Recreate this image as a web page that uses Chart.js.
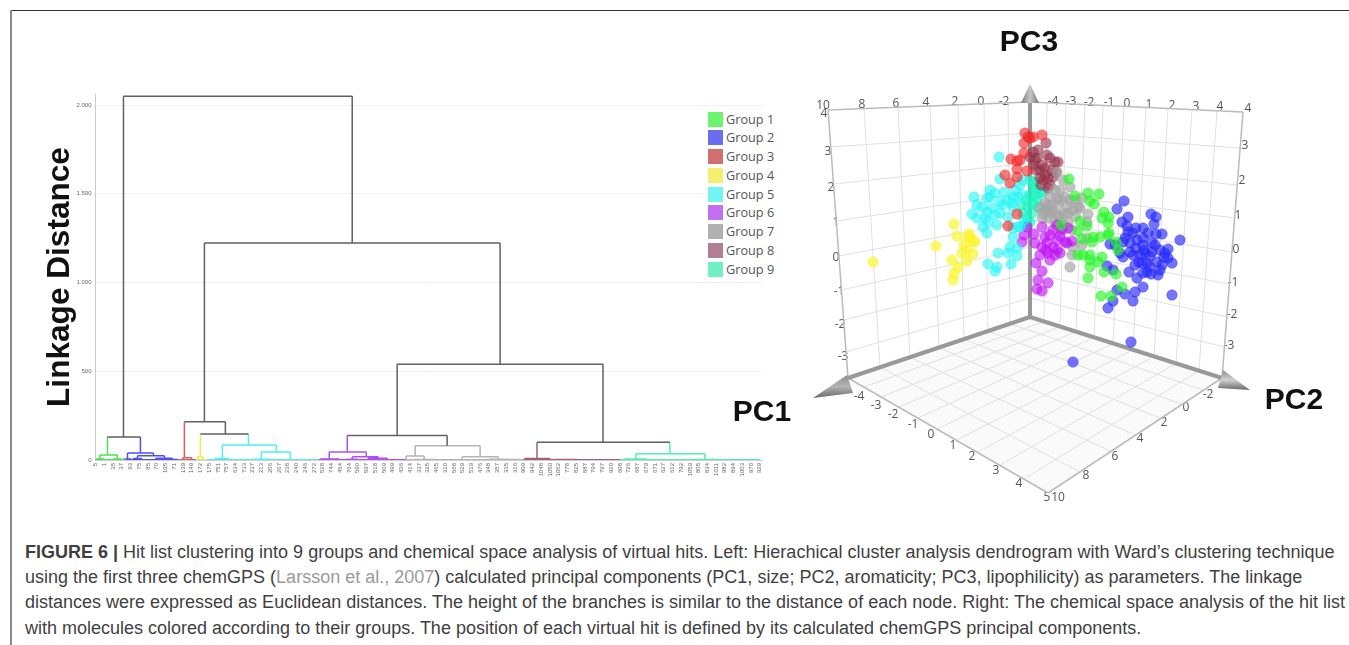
<!DOCTYPE html>
<html>
<head>
<meta charset="utf-8">
<script src="https://cdn.jsdelivr.net/npm/chart.js@4"></script>
<style>
html, body { margin: 0; padding: 0; background: #fff; overflow: hidden; }
#page { position: relative; width: 1349px; height: 645px; font-family: "Liberation Sans", sans-serif; }
canvas { position: absolute; top: 0; }
#frameTop { position: absolute; left: 10px; top: 10px; width: 1339px; height: 1px; background: #333; }
#frameLeft { position: absolute; left: 10px; top: 10px; width: 2px; height: 635px; background: #8a8a8a; }
#legend { position: absolute; left: 703px; top: 110px; width: 72px; height: 170px; background: #fff; font: 12.7px "Open Sans", sans-serif; color: #555; }
#legend div { position: absolute; left: 5px; height: 15px; line-height: 15px; padding-left: 18px; white-space: nowrap; }
#legend i { position: absolute; left: 0; top: 0; width: 15px; height: 15px; }
#caption { position: absolute; left: 25px; top: 540px; font-size: 18px; line-height: 25.2px; color: #3f3f3f; white-space: nowrap; }
#caption span { color: #9a9a9a; }
</style>
</head>
<body>
<div id="page">
    <div id="frameTop"></div>
    <div id="frameLeft"></div>
    <canvas id="tree" width="770" height="490" style="left:0"></canvas>
    <canvas id="space" width="619" height="520" style="left:730px"></canvas>
    <div id="legend"></div>
    <div id="caption">
        <div><b>FIGURE 6 |</b> Hit list clustering into 9 groups and chemical space analysis of virtual hits. Left: Hierachical cluster analysis dendrogram with Ward’s clustering technique</div>
        <div>using the first three chemGPS (<span>Larsson et al., 2007</span>) calculated principal components (PC1, size; PC2, aromaticity; PC3, lipophilicity) as parameters. The linkage</div>
        <div>distances were expressed as Euclidean distances. The height of the branches is similar to the distance of each node. Right: The chemical space analysis of the hit list</div>
        <div>with molecules colored according to their groups. The position of each virtual hit is defined by its calculated chemGPS principal components.</div>
    </div>
</div>
<script>
var groupNames = ['Group 1', 'Group 2', 'Group 3', 'Group 4', 'Group 5', 'Group 6', 'Group 7', 'Group 8', 'Group 9'];
var swatchColors = ['#6cf56c', '#6c6cf0', '#d07070', '#f5ef70', '#70f5f0', '#c070f0', '#b0b0b0', '#b08090', '#70f0c0'];
var branchColors = ['#606060', '#4fe04f', '#5050f0', '#d06060', '#ecec50', '#50f0f0', '#b050f0', '#b4b4b4', '#a06070', '#50f0b0'];
var pointColors = ['rgba(40,245,40,0.65)', 'rgba(40,40,250,0.65)', 'rgba(240,40,40,0.62)', 'rgba(250,245,50,0.72)', 'rgba(40,245,245,0.62)', 'rgba(190,20,245,0.62)', 'rgba(165,165,165,0.68)', 'rgba(150,50,75,0.6)', 'rgba(30,245,195,0.68)'];

// dendrogram
var leafLabels = [5, 1, 35, 37, 93, 75, 85, 70, 105, 71, 139, 149, 172, 175, 751, 757, 634, 733, 237, 213, 206, 267, 238, 240, 246, 272, 528, 744, 454, 764, 590, 597, 518, 509, 499, 436, 414, 337, 325, 465, 310, 568, 529, 519, 476, 348, 357, 335, 316, 909, 942, 1048, 1050, 1062, 778, 825, 887, 794, 797, 920, 608, 726, 687, 679, 671, 627, 612, 792, 1059, 805, 834, 1011, 982, 894, 1003, 970, 929];
var linkageTicks = [0, 500, 1000, 1500, 2000];
var linkageTickLabels = ['0', '500', '1.000', '1.500', '2.000'];

// merges: left leaf pos, right leaf pos, left height, right height, top height, top colour, left colour, right colour
var merges = [
    [3.2, 29.37, 130, 1222, 2050, 0, 0, 0],
    [1.37, 5.14, 28, 40, 130, 0, 1, 2],
    [12.46, 46.29, 215, 540, 1222, 0, 0, 0],
    [10.17, 14.86, 12, 146, 215, 0, 3, 0],
    [12, 17.49, 20, 85, 146, 0, 4, 5],
    [34.51, 58.06, 138, 100, 540, 0, 0, 0],
    [28.8, 40.23, 45, 80, 138, 0, 6, 0],
    [50.51, 65.71, 8, 35, 100, 0, 8, 9],
    [0.5, 2.5, 6, 5, 28, 1, 1, 1],
    [0, 1, 0, 0, 6, 1, 1, 1],
    [2, 3, 0, 0, 5, 1, 1, 1],
    [3.66, 6.63, 5, 24, 40, 2, 2, 2],
    [3.2, 4.1, 0, 0, 5, 2, 2, 2],
    [4.8, 7.89, 8, 10, 24, 2, 2, 2],
    [4.3, 5.3, 0, 0, 8, 2, 2, 2],
    [6.9, 8.8, 0, 3, 10, 2, 2, 2],
    [8, 9.4, 0, 0, 3, 2, 2, 2],
    [10, 11, 0, 0, 12, 3, 3, 3],
    [11.7, 12.3, 0, 0, 20, 4, 4, 4],
    [14.51, 20.69, 8, 45, 85, 5, 5, 5],
    [13.7, 15.2, 0, 0, 8, 5, 5, 5],
    [18.97, 22.29, 4, 2, 45, 5, 5, 5],
    [18.06, 19.89, 0, 0, 4, 5, 5, 5],
    [21.1, 23.4, 0, 0, 2, 5, 5, 5],
    [26.74, 30.97, 5, 18, 45, 6, 6, 6],
    [29.37, 32.34, 4, 10, 18, 6, 6, 6],
    [25.7, 27.9, 0, 0, 5, 6, 6, 6],
    [28.7, 30, 0, 0, 4, 6, 6, 6],
    [31.2, 33.4, 0, 0, 10, 6, 6, 6],
    [36.57, 44, 22, 18, 80, 7, 7, 7],
    [35.54, 37.6, 0, 3, 22, 7, 7, 7],
    [36.5, 39, 0, 0, 3, 7, 7, 7],
    [41.94, 46.06, 0, 4, 18, 7, 7, 7],
    [45, 47, 0, 0, 4, 7, 7, 7],
    [47, 48.6, 0, 0, 3, 7, 7, 7],
    [49.1, 52, 0, 0, 8, 8, 8, 8],
    [52.6, 55, 0, 0, 3, 8, 8, 8],
    [61.83, 69.71, 5, 3, 35, 9, 9, 9],
    [60.5, 63, 0, 0, 5, 9, 9, 9],
    [68.7, 71, 0, 0, 3, 9, 9, 9]
];
// colour, first leaf pos, last leaf pos of each flat run along the baseline
var baselines = [[1, 0, 3.5], [2, 3.5, 9.5], [3, 9.5, 11.5], [4, 11.5, 12.7], [5, 12.7, 25.5], [6, 25.5, 35.5], [7, 35.5, 48.9], [8, 48.9, 60], [9, 60, 76]];

// chemical space view
var group1 = [[1069,179],[1075,196],[1088,193],[1099,194],[1090,201],[1094,204],[1104,212],[1102,218],[1109,217],[1108,223],[1080,221],[1087,226],[1078,231],[1109,233],[1108,235],[1082,239],[1092,242],[1093,237],[1100,237],[1116,242],[1078,255],[1083,255],[1090,255],[1090,260],[1102,257],[1098,262],[1090,267],[1104,272],[1116,274],[1088,278],[1101,296],[1111,296],[1122,287],[1118,250],[1061,225]];
var group2 = [[1124,201],[1117,209],[1128,217],[1151,214],[1156,217],[1154,224],[1122,222],[1127,226],[1133,233],[1136,228],[1143,228],[1148,233],[1156,234],[1162,234],[1180,240],[1125,238],[1130,243],[1123,242],[1143,245],[1152,243],[1143,238],[1110,244],[1115,245],[1120,253],[1123,257],[1133,255],[1140,255],[1145,253],[1152,252],[1160,250],[1168,249],[1165,253],[1168,258],[1172,263],[1142,263],[1147,263],[1157,262],[1162,265],[1135,265],[1150,267],[1160,270],[1158,275],[1129,272],[1137,278],[1143,273],[1151,274],[1143,287],[1107,266],[1113,270],[1117,290],[1125,294],[1135,292],[1113,301],[1133,301],[1108,308],[1172,295],[1131,342],[1073,362],[1137,240],[1130,252],[1150,256],[1139,262],[1155,245],[1128,232],[1164,257],[1147,272],[1136,248],[1144,250]];
var group3 = [[1025,133],[1042,135],[1028,137],[1033,137],[1024,143],[1024,153],[1011,159],[1020,160],[1017,161],[1017,169],[1027,171],[1005,175],[1010,183],[1017,177],[1017,214],[1008,226],[1030,138]];
var group4 = [[873,262],[936,246],[954,224],[957,236],[969,234],[973,241],[971,238],[964,245],[962,253],[967,250],[973,254],[967,261],[952,260],[958,267],[954,273],[953,280],[975,242],[968,237]];
var group5 = [[999,157],[1000,179],[974,197],[990,190],[987,198],[995,193],[1004,192],[1013,197],[1018,197],[1012,203],[1000,202],[990,197],[977,205],[982,207],[987,212],[992,208],[995,215],[972,214],[977,218],[985,218],[988,222],[997,225],[983,227],[987,233],[1020,185],[1022,180],[1013,237],[1018,227],[1013,228],[1008,217],[1000,213],[1010,247],[1017,248],[1008,253],[998,253],[1017,256],[988,264],[997,267],[995,271],[1011,264],[1020,227],[1013,207],[1003,205],[1015,190],[1008,200],[1022,195],[1024,220]];
var group6 = [[1027,227],[1024,235],[1034,234],[1022,242],[1042,227],[1057,225],[1053,230],[1062,230],[1050,235],[1045,237],[1057,240],[1065,242],[1047,243],[1042,247],[1053,247],[1057,250],[1040,255],[1048,253],[1060,253],[1050,260],[1036,263],[1042,271],[1038,280],[1048,283],[1037,289],[1042,291],[1068,228],[1072,241],[1067,243],[1060,236],[1046,250],[1055,255],[1035,243]];
var group7 = [[1057,172],[1063,180],[1070,187],[1060,190],[1050,197],[1057,198],[1065,197],[1075,200],[1082,198],[1045,203],[1052,205],[1058,205],[1067,207],[1073,210],[1080,208],[1043,213],[1050,213],[1058,215],[1068,213],[1042,218],[1048,218],[1059,216],[1055,222],[1068,222],[1088,214],[1087,222],[1072,230],[1082,245],[1073,247],[1072,255],[1070,267],[1087,238],[1062,228],[1040,208],[1048,205],[1055,190],[1060,200],[1070,200],[1052,211],[1064,214],[1075,216],[1062,222],[1047,210],[1078,207]];
var group8 = [[1046,143],[1033,152],[1047,155],[1037,158],[1050,158],[1055,162],[1042,165],[1045,168],[1035,160],[1053,177],[1048,178],[1043,180],[1048,188],[1058,162],[1040,170],[1045,175],[1038,150],[1030,157],[1052,170],[1040,178],[1036,170],[1050,185],[1056,172],[1041,185],[1034,165]];
var group9 = [[1033,187],[1030,195],[1040,193],[1027,200],[1037,200],[1028,207],[1023,213],[1032,213],[1027,218],[1035,182],[1043,192],[1033,203],[1022,205],[1035,195],[1038,207],[1025,225],[1030,222],[1036,188],[1030,180]];
var groupPoints = [group1, group2, group3, group4, group5, group6, group7, group8, group9];

// box corners of the 3d view
var cornerTL = [828, 110], cornerTB = [1030, 102], cornerTR = [1243, 112];
var cornerBL = [848, 378], cornerBB = [1030, 317], cornerBR = [1222, 378], cornerFront = [1048, 493];
var backLevels = [133, 163, 192, 220, 247, 273, 298];
var leftLevels = [147, 184, 221, 256, 290, 320, 352];
var rightLevels = [148, 185, 218, 252, 284, 317, 347];
var leftWallTop = [864, 898, 930, 958, 984, 1008];
var leftWallBottom = [880, 910, 939, 964, 988, 1010];
var rightWallTop = [1047, 1066, 1085, 1103, 1124, 1146, 1168, 1192, 1217];
var rightWallBottom = [1044, 1060, 1076, 1094, 1113, 1133, 1154, 1176, 1199];
var floorPC1 = [[864,387],[881,397],[899,407],[918,418],[937,429],[957,440],[978,452],[1000,465],[1024,479]];
var floorPC2 = [[1080,472],[1110,451],[1135,435],[1160,418],[1181,404],[1203,390]];

var tickTexts = [
    ['10',823,106],['8',862,105],['6',896,104],['4',926,103],['2',955,102],['0',981,102],['-2',1004,102],
    ['-4',1053,102],['-3',1071,102],['-2',1089,103],['-1',1109,103],['0',1127,104],['1',1149,105],['2',1172,106],['3',1196,107],['4',1220,107],['4',1248,109],
    ['4',824,114],['3',828,152],['2',831,188],['1',836,223],['0',836,258],['-1',839,292],['-2',840,325],['-3',843,357],
    ['3',1245,146],['2',1242,181],['1',1238,216],['0',1236,250],['-1',1233,283],['-2',1232,315],['-3',1229,346],
    ['-4',859,397],['-3',876,406],['-2',893,415],['-1',913,425],['0',931,435],['1',953,446],['2',972,457],['3',996,471],['4',1019,484],['5',1047,498],
    ['10',1058,498],['8',1086,476],['6',1115,457],['4',1140,439],['2',1164,423],['0',1186,408],['-2',1208,395]
];
var axisTexts = [['PC3',1029,43],['PC1',762,413],['PC2',1294,401]];

// legend
groupNames.forEach(function (name, i) {
    var row = document.createElement('div');
    row.style.top = (1.5 + i * 18.75) + 'px';
    row.innerHTML = '<i style="background:' + swatchColors[i] + '"></i>' + name;
    document.getElementById('legend').appendChild(row);
});

function segment(list, a, b) {
    list.push({ x: a[0], y: a[1] }, { x: b[0], y: b[1] }, { x: null, y: null });
}

var treeLines = branchColors.map(function () { return []; });
merges.forEach(function (m) {
    segment(treeLines[m[5]], [m[0], m[4]], [m[1], m[4]]);
    segment(treeLines[m[6]], [m[0], m[2]], [m[0], m[4]]);
    segment(treeLines[m[7]], [m[1], m[3]], [m[1], m[4]]);
});
baselines.forEach(function (b) {
    segment(treeLines[b[0]], [b[1], 1.5], [b[2], 1.5]);
});

new Chart(document.getElementById('tree'), {
    type: 'scatter',
    data: {
        datasets: treeLines.map(function (pts, i) {
            return { data: pts, showLine: true, borderColor: branchColors[i], borderWidth: 1.5, pointRadius: 0, spanGaps: false };
        })
    },
    options: {
        responsive: false,
        animation: false,
        layout: { padding: { top: 94 }, autoPadding: false },
        plugins: { legend: { display: false }, tooltip: { enabled: false } },
        scales: {
            x: {
                type: 'linear', min: 0, max: 76.3,
                afterBuildTicks: function (scale) {
                    scale.ticks = leafLabels.map(function (l, i) { return { value: i }; });
                },
                afterFit: function (scale) { scale.height = 30; },
                grid: { display: false, drawTicks: false },
                border: { color: '#d0d0d0' },
                ticks: {
                    autoSkip: false, minRotation: 90, maxRotation: 90, padding: 3,
                    font: { size: 6, family: 'Liberation Sans' }, color: '#666',
                    callback: function (v) { return leafLabels[v]; }
                }
            },
            y: {
                type: 'linear', min: 0, max: 2062,
                afterBuildTicks: function (scale) {
                    scale.ticks = linkageTicks.map(function (v) { return { value: v }; });
                },
                afterFit: function (scale) { scale.width = 95.5; },
                grid: { color: '#f0f0f0', drawTicks: false },
                border: { color: '#cccccc' },
                ticks: {
                    padding: 4, font: { size: 6, family: 'Liberation Sans' }, color: '#666',
                    callback: function (v) { return linkageTickLabels[linkageTicks.indexOf(v)]; }
                },
                title: {
                    display: true, text: 'Linkage Distance', color: '#111',
                    font: { size: 31.6, family: 'Liberation Sans', weight: 'bold' },
                    padding: { top: 41, bottom: 0 }
                }
            }
        }
    }
});

// 3d box pieces
function lerpX(a, b, y) { return a[0] + (y - a[1]) * (b[0] - a[0]) / (b[1] - a[1]); }
function lerpY(a, b, x) { return a[1] + (x - a[0]) * (b[1] - a[1]) / (b[0] - a[0]); }

var gridLines = [];
var edgeLines = [];
var axisLines = [];
backLevels.forEach(function (y, i) {
    segment(gridLines, [lerpX(cornerTL, cornerBL, leftLevels[i]), leftLevels[i]], [cornerTB[0], y]);
    segment(gridLines, [cornerTB[0], y], [lerpX(cornerTR, cornerBR, rightLevels[i]), rightLevels[i]]);
});
leftWallTop.forEach(function (x, i) {
    var bottom = [leftWallBottom[i], lerpY(cornerBL, cornerBB, leftWallBottom[i])];
    segment(gridLines, [x, lerpY(cornerTL, cornerTB, x)], bottom);
    segment(gridLines, bottom, floorPC2[i]);
});
rightWallTop.forEach(function (x, i) {
    var bottom = [rightWallBottom[i], lerpY(cornerBB, cornerBR, rightWallBottom[i])];
    segment(gridLines, [x, lerpY(cornerTB, cornerTR, x)], bottom);
    segment(gridLines, bottom, floorPC1[i]);
});
segment(edgeLines, cornerTL, cornerTB);
segment(edgeLines, cornerTB, cornerTR);
segment(edgeLines, cornerTL, cornerBL);
segment(edgeLines, cornerTR, cornerBR);
segment(edgeLines, cornerBL, cornerFront);
segment(edgeLines, cornerFront, cornerBR);
segment(axisLines, cornerTB, cornerBB);
segment(axisLines, cornerBB, cornerBL);
segment(axisLines, cornerBB, cornerBR);

function polygon(pts) {
    return pts.map(function (p) { return { x: p[0], y: p[1] }; });
}

var coneTop = [[1030, 84], [1039, 103], [1021, 103], [1030, 84]];
var coneLeft = [[813, 398], [847, 375], [853, 393], [813, 398]];
var coneRight = [[1250, 390], [1223, 370], [1218, 388], [1250, 390]];
var floorShape = [cornerBB, cornerBL, cornerFront, cornerBR, cornerBB];

// shaded cones, gradients are in canvas pixels
var spaceCtx = document.getElementById('space').getContext('2d');
function coneShade(x0, y0, x1, y1, stops) {
    var g = spaceCtx.createLinearGradient(x0 - 730, y0, x1 - 730, y1);
    stops.forEach(function (c, i) { g.addColorStop(i / (stops.length - 1), c); });
    return g;
}
var coneFills = [
    coneShade(1021, 0, 1039, 0, ['#777777', '#c8c8c8', '#777777']),
    coneShade(0, 375, 0, 398, ['#8a8a8a', '#b4b4b4', '#6a6a6a']),
    coneShade(0, 370, 0, 390, ['#8c8c8c', '#d0d0d0', '#666666'])
];

var spaceSets = groupPoints.map(function (pts, i) {
    return {
        label: groupNames[i],
        data: pts.map(function (p) { return { x: p[0], y: p[1] }; }),
        pointRadius: 5.3,
        pointBackgroundColor: pointColors[i],
        pointBorderColor: pointColors[i],
        pointBorderWidth: 0.5,
        clip: false
    };
});
[coneTop, coneLeft, coneRight].forEach(function (c, i) {
    spaceSets.push({ data: polygon(c), showLine: true, fill: 'shape', backgroundColor: coneFills[i], borderColor: 'rgba(0,0,0,0)', borderWidth: 0, pointRadius: 0 });
});
spaceSets.push({ data: axisLines, showLine: true, borderColor: '#999999', borderWidth: 4, pointRadius: 0, spanGaps: false });
spaceSets.push({ data: edgeLines, showLine: true, borderColor: '#bbbbbb', borderWidth: 1.5, pointRadius: 0, spanGaps: false });
spaceSets.push({ data: gridLines, showLine: true, borderColor: '#e0e0e0', borderWidth: 1, pointRadius: 0, spanGaps: false });
spaceSets.push({ data: polygon(floorShape), showLine: true, fill: 'shape', backgroundColor: '#fafafa', borderWidth: 0, pointRadius: 0 });

var viewText = {
    id: 'viewText',
    beforeDatasetsDraw: function (chart) {
        var ctx = chart.ctx;
        ctx.save();
        ctx.textAlign = 'center';
        ctx.textBaseline = 'middle';
        ctx.fillStyle = '#555';
        ctx.font = '12px "Open Sans"';
        tickTexts.forEach(function (t) {
            ctx.fillText(t[0], chart.scales.x.getPixelForValue(t[1]), chart.scales.y.getPixelForValue(t[2]));
        });
        ctx.fillStyle = '#111';
        ctx.font = 'bold 30px "Liberation Sans"';
        axisTexts.forEach(function (t) {
            ctx.fillText(t[0], chart.scales.x.getPixelForValue(t[1]), chart.scales.y.getPixelForValue(t[2]));
        });
        ctx.restore();
    }
};

new Chart(document.getElementById('space'), {
    type: 'scatter',
    data: { datasets: spaceSets },
    plugins: [viewText],
    options: {
        responsive: false,
        animation: false,
        layout: { autoPadding: false },
        plugins: { legend: { display: false }, tooltip: { enabled: false } },
        scales: {
            x: { type: 'linear', min: 730, max: 1349, display: false },
            y: { type: 'linear', min: 0, max: 520, reverse: true, display: false }
        }
    }
});
</script>
</body>
</html>
